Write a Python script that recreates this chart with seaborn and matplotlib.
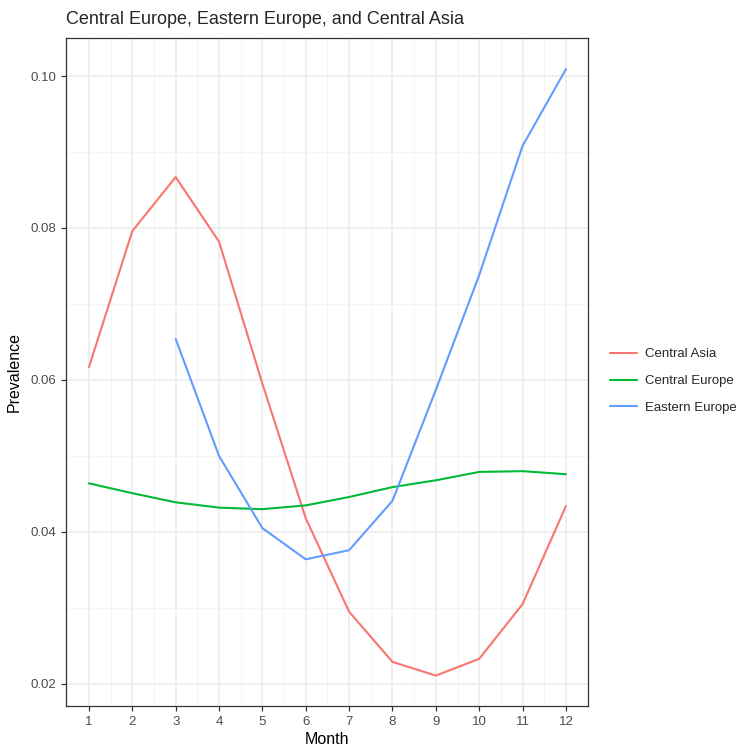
import numpy as np
import pandas as pd
import matplotlib
matplotlib.use("Agg")
import matplotlib.pyplot as plt
import seaborn as sns

# --- Data ---
months = list(range(1, 13))
central_asia = [0.0617, 0.0796, 0.0867, 0.0782, 0.0595, 0.0418, 0.0295,
                0.0229, 0.0211, 0.0233, 0.0305, 0.0434]
central_europe = [0.0464, 0.0451, 0.0439, 0.0432, 0.0430, 0.0435, 0.0446,
                  0.0459, 0.0468, 0.0479, 0.0480, 0.0476]
eastern_europe_months = list(range(3, 13))
eastern_europe = [0.0654, 0.0500, 0.0405, 0.0364, 0.0376, 0.0441, 0.0587,
                  0.0738, 0.0908, 0.1009]

regions = ["Central Asia", "Central Europe", "Eastern Europe"]
palette = {"Central Asia": "#F8766D", "Central Europe": "#00BA38",
           "Eastern Europe": "#619CFF"}

df = pd.concat([
    pd.DataFrame({"Month": months, "Prevalence": central_asia, "Region": "Central Asia"}),
    pd.DataFrame({"Month": months, "Prevalence": central_europe, "Region": "Central Europe"}),
    pd.DataFrame({"Month": eastern_europe_months, "Prevalence": eastern_europe,
                  "Region": "Eastern Europe"}),
], ignore_index=True)

sns.set_style("white")
plt.rcParams["font.family"] = ["Liberation Sans", "DejaVu Sans"]

fig = plt.figure(figsize=(7.39, 7.5), dpi=100)
ax = fig.add_axes([0.0893, 0.0587, 0.7064, 0.8906])

# ggplot theme_bw style grid
ax.set_axisbelow(True)
ax.set_xticks(months)
ax.set_xticks(np.arange(1.5, 12.5, 1), minor=True)
ax.set_yticks([0.02, 0.04, 0.06, 0.08, 0.10])
ax.set_yticks([0.03, 0.05, 0.07, 0.09], minor=True)
ax.grid(which="major", color="#EBEBEB", linewidth=1.1)
ax.grid(which="minor", color="#F3F3F3", linewidth=0.6)

sns.lineplot(data=df, x="Month", y="Prevalence", hue="Region", hue_order=regions,
             palette=palette, linewidth=1.5, ax=ax, legend=False)

ax.set_xlim(0.47, 12.51)
ax.set_ylim(0.0171, 0.105)
ax.set_yticklabels(["0.02", "0.04", "0.06", "0.08", "0.10"])

for sp in ax.spines.values():
    sp.set_color("#333333")
    sp.set_linewidth(0.9)
ax.tick_params(which="major", length=3.5, width=0.9, color="#333333",
               labelcolor="#4D4D4D", labelsize=9.5, left=True, bottom=True)
ax.tick_params(which="minor", length=0)

ax.set_xlabel("Month", fontsize=11.5, color="black", labelpad=3)
ax.set_ylabel("Prevalence", fontsize=11.5, color="black", labelpad=6)
ax.set_title("Central Europe, Eastern Europe, and Central Asia", fontsize=13,
             loc="left", pad=10)

handles = [plt.Line2D([], [], color=palette[r], linewidth=1.5) for r in regions]
fig.legend(handles, regions, loc="center left", bbox_to_anchor=(0.81, 0.492),
           frameon=False, fontsize=9.5, handlelength=2.0, handletextpad=0.6,
           labelspacing=1.1)

fig.savefig("out.png", dpi=100)
